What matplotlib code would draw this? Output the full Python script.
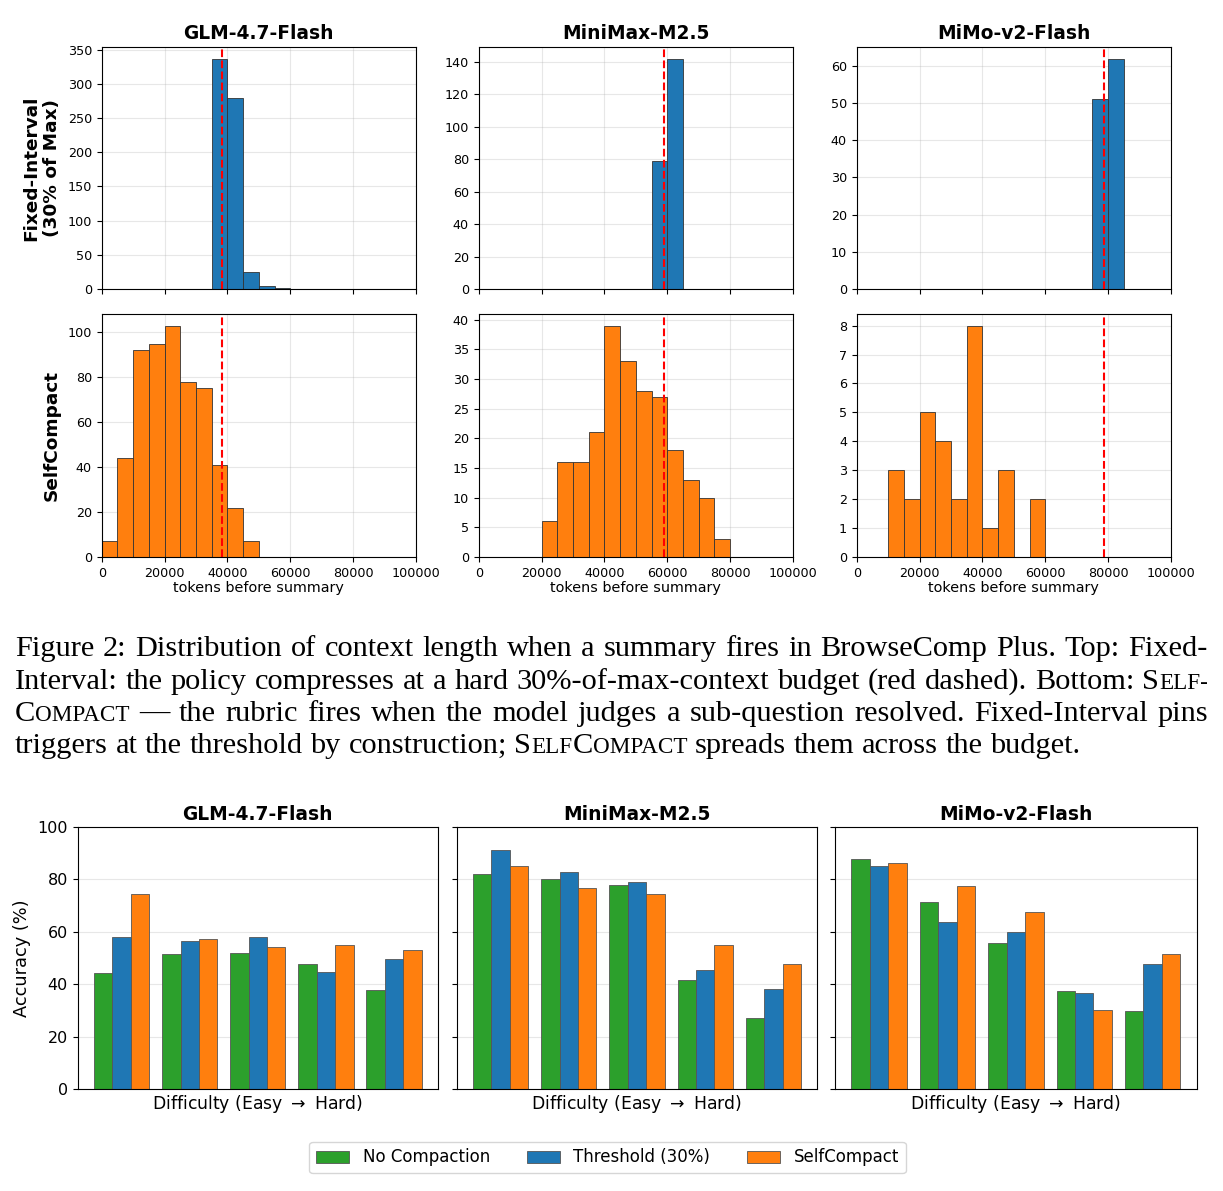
import numpy as np
import matplotlib
matplotlib.use("Agg")
import matplotlib.pyplot as plt
from matplotlib.patches import Patch

# ---------------- data ----------------
models = ["GLM-4.7-Flash", "MiniMax-M2.5", "MiMo-v2-Flash"]
thresholds = [38400, 58982, 78643]          # 30% of max context
bin_width = 5000

# Fixed-Interval (30% of Max): histogram bin starts and counts
fixed_starts = [[35000, 40000, 45000, 50000, 55000],
                [55000, 60000],
                [75000, 80000]]
fixed_counts = [[337, 279, 25, 4, 1],
                [79, 142],
                [51, 62]]

# SelfCompact: histogram bin starts and counts
self_starts = [[0, 5000, 10000, 15000, 20000, 25000, 30000, 35000, 40000, 45000],
               [20000, 25000, 30000, 35000, 40000, 45000, 50000, 55000, 60000, 65000, 70000, 75000],
               [10000, 15000, 20000, 25000, 30000, 35000, 40000, 45000, 55000]]
self_counts = [[7, 44, 92, 95, 103, 78, 75, 41, 22, 7],
               [6, 16, 16, 21, 39, 33, 28, 27, 18, 13, 10, 3],
               [3, 2, 5, 4, 2, 8, 1, 3, 2]]

# Accuracy by difficulty bucket (easy -> hard)
methods = ["No Compaction", "Threshold (30%)", "SelfCompact"]
acc_no_compaction = [[44.2, 51.4, 51.8, 47.6, 37.8],
                     [81.9, 80.2, 77.7, 41.5, 27.3],
                     [87.8, 71.2, 55.6, 37.3, 29.7]]
acc_threshold = [[58.1, 56.3, 57.9, 44.7, 49.5],
                 [91.2, 82.6, 78.8, 45.3, 38.1],
                 [84.9, 63.6, 59.8, 36.5, 47.6]]
acc_selfcompact = [[74.2, 57.1, 54.1, 54.8, 52.9],
                   [84.9, 76.5, 74.2, 54.8, 47.6],
                   [86.3, 77.3, 67.5, 30.1, 51.5]]

# ---------------- style ----------------
BLUE, ORANGE, GREEN = "#1f77b4", "#ff7f0e", "#2ca02c"
W, H, DPI = 1223, 1191, 100
fig = plt.figure(figsize=(W / DPI, H / DPI), dpi=DPI)
plt.rcParams["font.family"] = ["DejaVu Sans"]


def add_ax(l, r, t, b):
    return fig.add_axes([l / W, 1 - b / H, (r - l) / W, (b - t) / H])


hist_cols = [(101.7, 416.0), (478.7, 793.0), (856.7, 1171.0)]
hist_rows = [(47.0, 289.0), (314.0, 557.0)]

for j in range(3):
    for i, (starts, counts, color) in enumerate([(fixed_starts[j], fixed_counts[j], BLUE),
                                                  (self_starts[j], self_counts[j], ORANGE)]):
        l, r = hist_cols[j]
        t, b = hist_rows[i]
        ax = add_ax(l, r, t, b)
        ax.set_axisbelow(True)
        ax.bar(starts, counts, width=bin_width, align="edge", color=color,
               edgecolor="#333333", linewidth=0.6)
        ax.axvline(thresholds[j], color="red", linestyle="--", linewidth=1.5)
        ax.set_xlim(0, 100000)
        ax.set_xticks(np.arange(0, 101, 20) * 1000)
        ax.grid(True, alpha=0.3)
        ax.tick_params(labelsize=9.2)
        if i == 0:
            ax.set_title(models[j], fontsize=13.4, fontweight="bold", pad=6)
            ax.tick_params(labelbottom=False)
        else:
            ax.set_xlabel("tokens before summary", fontsize=10.4, labelpad=1)
        if j == 0:
            lab = "Fixed-Interval\n(30% of Max)" if i == 0 else "SelfCompact"
            ax.set_ylabel(lab, fontsize=13.3, fontweight="bold", labelpad=5)

bar_cols = [(77.7, 438.0), (456.7, 817.3), (835.0, 1196.7)]
bar_top, bar_bot = 826.7, 1089.3
x = np.arange(5)
bw = 0.27
for j in range(3):
    l, r = bar_cols[j]
    ax = add_ax(l, r, bar_top, bar_bot)
    ax.set_axisbelow(True)
    for k, (vals, color) in enumerate([(acc_no_compaction[j], GREEN),
                                       (acc_threshold[j], BLUE),
                                       (acc_selfcompact[j], ORANGE)]):
        ax.bar(x + (k - 1) * bw, vals, width=bw, color=color,
               edgecolor="#555555", linewidth=0.6, label=methods[k])
    ax.set_ylim(0, 100)
    ax.set_yticks(np.arange(0, 101, 20))
    ax.set_xticks([])
    ax.grid(axis="y", alpha=0.3)
    ax.tick_params(labelsize=11.5)
    ax.set_title(models[j], fontsize=13.4, fontweight="bold", pad=5)
    ax.set_xlabel(r"Difficulty (Easy $\rightarrow$ Hard)", fontsize=12.4, labelpad=3)
    if j == 0:
        ax.set_ylabel("Accuracy (%)", fontsize=12.8, labelpad=5)
    else:
        ax.tick_params(labelleft=False)

handles = [Patch(facecolor=c, edgecolor="#555555", linewidth=0.6) for c in (GREEN, BLUE, ORANGE)]
fig.legend(handles, methods, loc="center", bbox_to_anchor=(607.5 / W, 1 - 1157.5 / H),
           ncol=3, fontsize=12, columnspacing=2.2)

# ---------------- caption ----------------
SC = 0.76
cap_lines = [
    [("Figure 2: Distribution of context length when a summary fires in BrowseComp Plus. Top: Fixed-", 1.0)],
    [("Interval: the policy compresses at a hard 30%-of-max-context budget (red dashed). Bottom: S", 1.0),
     ("ELF-", SC)],
    [("C", 1.0), ("OMPACT", SC),
     (" \u2014 the rubric fires when the model judges a sub-question resolved. Fixed-Interval pins", 1.0)],
    [("triggers at the threshold by construction; S", 1.0), ("ELF", SC), ("C", 1.0), ("OMPACT", SC),
     (" spreads them across the budget.", 1.0)],
]
justify = [True, True, True, False]
baselines = [656.5, 689.0, 721.0, 753.0]
x_left, x_right = 15.0, 1208.0
renderer = fig.canvas.get_renderer()
serif = ["Liberation Serif", "DejaVu Serif"]


def words_of(line):
    words, cur = [], []
    for text, sc in line:
        parts = text.split(" ")
        for pi, p in enumerate(parts):
            if pi > 0:
                if cur:
                    words.append(cur)
                cur = []
            if p:
                cur.append((p, sc))
    if cur:
        words.append(cur)
    return words


def seg_width(s, size):
    t = fig.text(0, 0, s, fontsize=size, family=serif)
    w = t.get_window_extent(renderer).width
    t.remove()
    return w


base = 19.5
space_base = seg_width("a b", base) - seg_width("ab", base)
ws4 = words_of(cap_lines[3])
nat4 = sum(seg_width(s, base * sc) for w in ws4 for s, sc in w) + space_base * (len(ws4) - 1)
size = base * (1068.0 / nat4)
space = seg_width("a b", size) - seg_width("ab", size)

for line, just, yb in zip(cap_lines, justify, baselines):
    ws = words_of(line)
    widths = [[seg_width(s, size * sc) for s, sc in w] for w in ws]
    total = sum(sum(w) for w in widths)
    gap = (x_right - x_left - total) / (len(ws) - 1) if just else space
    xp = x_left
    for w, wd in zip(ws, widths):
        for (s, sc), sw in zip(w, wd):
            fig.text(xp / W, 1 - yb / H, s, fontsize=size * sc, family=serif,
                     ha="left", va="baseline")
            xp += sw
        xp += gap

fig.savefig("out.png", dpi=DPI)
